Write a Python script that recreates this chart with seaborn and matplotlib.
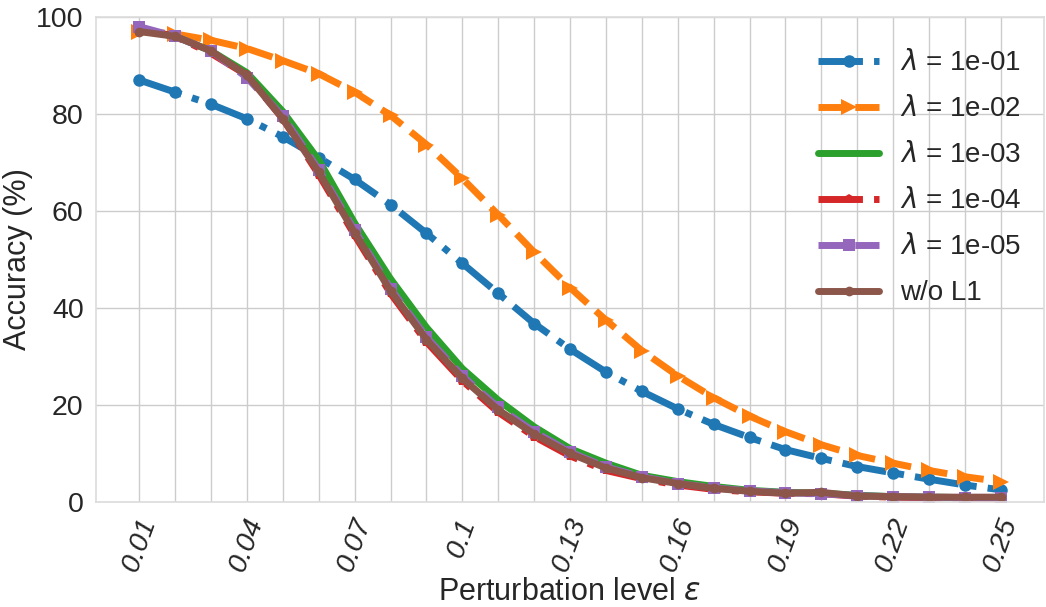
import numpy as np
import pandas as pd
import matplotlib
matplotlib.use("Agg")
import matplotlib.pyplot as plt
import seaborn as sns

eps = [round(0.01 * i, 2) for i in range(1, 26)]
tick_vals = [0.01, 0.04, 0.07, 0.10, 0.13, 0.16, 0.19, 0.22, 0.25]
tick_labels = ["0.01", "0.04", "0.07", "0.1", "0.13", "0.16", "0.19", "0.22", "0.25"]

acc_1e1 = [87, 84.5, 82, 79, 75.3, 71, 66.5, 61.3, 55.4, 49.2, 43, 36.8, 31.5, 26.8, 22.8,
           19.2, 16, 13.3, 10.8, 9, 7.3, 6, 4.7, 3.5, 2.5]
acc_1e2 = [97, 96.5, 95.2, 93.5, 91, 88.3, 84.5, 79.7, 73.7, 66.7, 59.2, 51.5, 44.2, 37.5, 31.2,
           26, 21.5, 17.7, 14.5, 11.8, 9.6, 8, 6.5, 5.2, 4.2]
acc_1e3 = [97.5, 96, 93, 88.5, 80.5, 70.5, 57.5, 46, 36, 27.5, 21, 15.5, 11, 8, 5.5,
           4.2, 3.2, 2.4, 2, 1.8, 1.4, 1.1, 1, 0.9, 0.8]
acc_1e4 = [97.5, 96, 92.5, 88, 79, 67.5, 55, 43, 33, 25, 18.5, 13.5, 9.5, 6.5, 4.8,
           3.5, 2.6, 2.1, 1.8, 1.7, 1.2, 1.0, 0.9, 0.8, 0.7]
acc_1e5 = [98, 96, 93, 87.5, 79.5, 68.5, 56, 44, 34, 26, 19.5, 14.5, 10.3, 7.2, 5.2,
           3.8, 2.9, 2.3, 1.9, 1.7, 1.3, 1.1, 1.0, 0.9, 0.8]
acc_nol1 = [97, 96, 93, 88, 79, 68, 55.5, 43.5, 33.5, 25.5, 19, 14, 10, 7, 5,
            3.8, 2.8, 2.2, 1.8, 2, 1.2, 1.1, 1, 1, 1]

series_names = [r"$\lambda$ = 1e-01", r"$\lambda$ = 1e-02", r"$\lambda$ = 1e-03",
                r"$\lambda$ = 1e-04", r"$\lambda$ = 1e-05", "w/o L1"]
series_vals = [acc_1e1, acc_1e2, acc_1e3, acc_1e4, acc_1e5, acc_nol1]
styles = [
    dict(linestyle="-.", marker="o", markersize=9),
    dict(linestyle="--", marker=">", markersize=11),
    dict(linestyle="-", marker="v", markersize=3),
    dict(linestyle="-.", marker="p", markersize=7),
    dict(linestyle="--", marker="s", markersize=8),
    dict(linestyle="-", marker="o", markersize=7),
]

sns.set_theme(style="whitegrid")
plt.rcParams["font.family"] = ["Liberation Sans", "DejaVu Sans"]
plt.rcParams["mathtext.fontset"] = "dejavusans"

fig, ax = plt.subplots(figsize=(10.46, 6.07), dpi=100)
palette = sns.color_palette("tab10")
for i, (name, vals) in enumerate(zip(series_names, series_vals)):
    df = pd.DataFrame({"eps": eps, "acc": vals})
    sns.lineplot(data=df, x="eps", y="acc", ax=ax, color=palette[i], linewidth=5,
                 label=name, markeredgewidth=0, **styles[i])

ax.set_ylim(0, 100)
ax.set_xticks(eps)
lab = []
for e in eps:
    m = [l for t, l in zip(tick_vals, tick_labels) if abs(t - e) < 1e-9]
    lab.append(m[0] if m else "")
ax.set_xticklabels(lab, rotation=70, fontstyle="italic", fontsize=20.5)
ax.tick_params(axis="y", labelsize=20.5, pad=3)
ax.tick_params(axis="x", pad=3)
ax.set_xlabel(r"Perturbation level $\varepsilon$", fontsize=22, labelpad=1)
ax.set_ylabel("Accuracy (%)", fontsize=22, labelpad=2)
for s in ax.spines.values():
    s.set_color("#dddddd")
ax.legend(loc="upper right", bbox_to_anchor=(1.0, 0.977), frameon=False, fontsize=20,
          handlelength=2.2, borderaxespad=0.4, labelspacing=0.72, handletextpad=0.75)
fig.subplots_adjust(left=0.092, right=0.998, top=0.972, bottom=0.173)
fig.savefig("out.png", dpi=100)
